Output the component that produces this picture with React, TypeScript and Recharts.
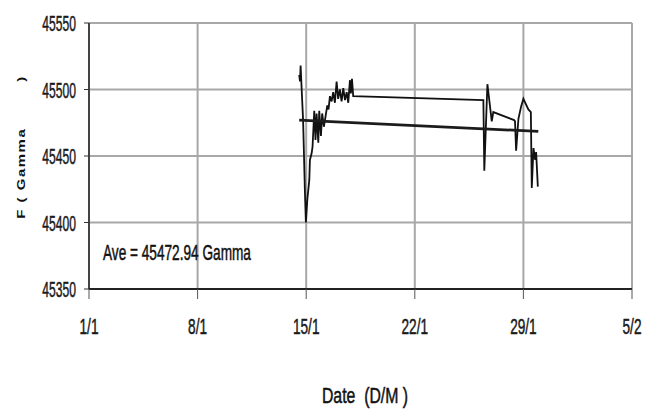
import { LineChart, Line, XAxis, YAxis, CartesianGrid } from "recharts";

// days counted from 1 January (1 = 1/1, 36 = 5/2)
const tickDays = [1, 8, 15, 22, 29, 36];
const tickLabels = ["1/1", "8/1", "15/1", "22/1", "29/1", "5/2"];
const gammaTicks = [45350, 45400, 45450, 45500, 45550];

// total field readings (Gamma)
const fieldDays = [
  14.55, 14.6, 14.64, 14.72, 14.8, 14.92, 14.98, 15.07, 15.2, 15.24, 15.35, 15.41,
  15.52, 15.6, 15.67, 15.78, 15.84, 15.95, 16.03, 16.14, 16.25, 16.36, 16.44, 16.53,
  16.64, 16.74, 16.85, 16.96, 17.06, 17.17, 17.28, 17.39, 17.5, 17.61, 17.71, 17.82,
  17.88, 17.95, 18.03, 26.42, 26.48, 26.68, 26.96, 27.06, 28.4, 28.46, 28.53, 28.68,
  28.85, 29.0, 29.32, 29.48, 29.54, 29.65, 29.76, 29.82, 29.93,
];
const fieldValues = [
  45511, 45506, 45518, 45497, 45477, 45422, 45400, 45417, 45432, 45447, 45452, 45457,
  45484, 45462, 45482, 45460, 45484, 45465, 45482, 45472, 45480, 45488, 45485, 45495,
  45491, 45498, 45490, 45506, 45493, 45500, 45491, 45501, 45492, 45498, 45490, 45507,
  45497, 45508, 45495, 45492, 45439, 45504, 45476, 45483, 45477, 45476, 45454, 45478,
  45487, 45493, 45485, 45483, 45426, 45456, 45447, 45453, 45427,
];

// linear trend
const trendDays = [14.55, 29.96];
const trendValues = [45477, 45468.5];

const fieldData = fieldDays.map((day, i) => ({ day, f: fieldValues[i] }));
const trendData = trendDays.map((day, i) => ({ day, f: trendValues[i] }));

const FONT = "'Liberation Sans', Arial, sans-serif";

function YTick(props: any) {
  const { x, y, payload } = props;
  return (
    <g transform={`translate(${x},${y})`}>
      <text transform="scale(0.55,1)" textAnchor="end" y={8} fontSize={22} fill="#1a1a1a" stroke="#1a1a1a" strokeWidth={0.5} fontFamily={FONT}>
        {payload.value}
      </text>
    </g>
  );
}

function XTick(props: any) {
  const { x, y, payload } = props;
  const label = tickLabels[tickDays.indexOf(payload.value)];
  return (
    <g transform={`translate(${x},${y})`}>
      <text transform="scale(0.62,1)" textAnchor="middle" y={17} fontSize={22} fill="#1a1a1a" stroke="#1a1a1a" strokeWidth={0.5} fontFamily={FONT}>
        {label}
      </text>
    </g>
  );
}

export default function App() {
  return (
    <div style={{ position: "absolute", left: 0, top: 0, width: 657, height: 416, background: "#fff" }}>
      <LineChart width={657} height={416} margin={{ top: 23, right: 25, bottom: 0, left: 0 }}>
        <CartesianGrid stroke="#a8a8a8" strokeWidth={2} />
        <XAxis
          type="number"
          dataKey="day"
          domain={[1, 36]}
          ticks={tickDays}
          interval={0}
          height={127}
          tickSize={10}
          tickMargin={18}
          tick={<XTick />}
          axisLine={{ stroke: "#222", strokeWidth: 2 }}
          tickLine={{ stroke: "#555" }}
        />
        <YAxis
          type="number"
          domain={[45350, 45550]}
          ticks={gammaTicks}
          interval={0}
          width={89}
          tickSize={5}
          tickMargin={8}
          tick={<YTick />}
          axisLine={{ stroke: "#222", strokeWidth: 1.5 }}
          tickLine={{ stroke: "#333" }}
        />
        <Line
          data={fieldData}
          dataKey="f"
          type="linear"
          stroke="#111"
          strokeWidth={1.8}
          dot={false}
          isAnimationActive={false}
        />
        <Line
          data={trendData}
          dataKey="f"
          type="linear"
          stroke="#1c1c1c"
          strokeWidth={2.8}
          dot={false}
          isAnimationActive={false}
        />
      </LineChart>
      <svg
        width={657}
        height={416}
        style={{ position: "absolute", left: 0, top: 0, pointerEvents: "none" }}
      >
        <g transform="translate(103,260)">
          <text transform="scale(0.62,1)" fontSize={22} fill="#111" stroke="#111" strokeWidth={0.5} fontFamily={FONT}>
            Ave = 45472.94 Gamma
          </text>
        </g>
        <g transform="translate(365,403)">
          <text transform="scale(0.72,1)" textAnchor="middle" fontSize={22} fill="#111" stroke="#111" strokeWidth={0.5} fontFamily={FONT} style={{ whiteSpace: "pre" }}>
            {"Date  (D/M )"}
          </text>
        </g>
        <g transform="translate(25,147) rotate(-90) scale(1,0.75)">
          <text textAnchor="middle" fontSize={15} fontWeight="bold" letterSpacing={1.5} fill="#111" fontFamily={FONT}>
            F ( Gamma<tspan dx={46}>)</tspan>
          </text>
        </g>
      </svg>
    </div>
  );
}
